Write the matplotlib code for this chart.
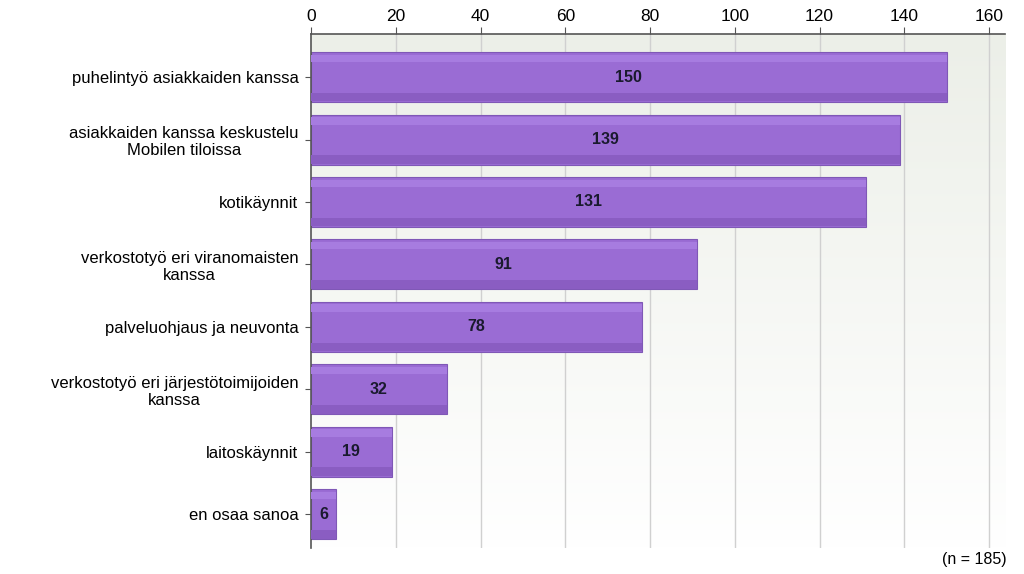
import matplotlib
matplotlib.use("Agg")
import matplotlib.pyplot as plt
import numpy as np

categories = ["puhelintyö asiakkaiden kanssa",
              "asiakkaiden kanssa keskustelu\nMobilen tiloissa",
              "kotikäynnit",
              "verkostotyö eri viranomaisten\nkanssa",
              "palveluohjaus ja neuvonta",
              "verkostotyö eri järjestötoimijoiden\nkanssa",
              "laitoskäynnit",
              "en osaa sanoa"]
values = [150, 139, 131, 91, 78, 32, 19, 6]
ticks = [0, 20, 40, 60, 80, 100, 120, 140, 160]

plt.rcParams["font.family"] = "Liberation Sans"
fig = plt.figure(figsize=(10.24, 5.74), dpi=100)
ax = fig.add_axes([0.3037, 0.0453, 0.678, 0.8955])
xmax, ytop, ybot = 163.8, -0.69, 7.54
ax.set_xlim(0, xmax)
ax.set_ylim(ybot, ytop)

grad = np.linspace(0, 1, 256).reshape(-1, 1)
from matplotlib.colors import LinearSegmentedColormap
bg = LinearSegmentedColormap.from_list("bg", ["#ecefe8", "#ffffff"])
ax.imshow(grad, extent=[0, xmax, ybot, ytop], cmap=bg, aspect="auto", zorder=0)

for t in ticks[1:]:
    ax.axvline(t, color="#d0d0d0", lw=1, zorder=1)

y = np.arange(len(categories))
ax.barh(y, values, height=0.8, color="#9a6cd4", edgecolor="#7f58b6", lw=0.8, zorder=2)
ax.barh(y - 0.3, values, height=0.12, color="#a77ce0", lw=0, zorder=3)
ax.barh(y + 0.32, values, height=0.14, color="#8a5dc2", lw=0, zorder=3)
for yi, v in zip(y, values):
    ax.text(v / 2, yi, str(v), ha="center", va="center", fontsize=11.5,
            fontweight="bold", color="#1a1a2e", zorder=4)

ax.set_yticks(y)
ax.set_yticklabels(categories, fontsize=12, ha="right", multialignment="center")
ax.set_xticks(ticks)
ax.xaxis.tick_top()
ax.tick_params(axis="x", labelsize=12.5, length=5, color="#555555", pad=2)
ax.tick_params(axis="y", length=4, color="#555555", pad=5)
for s in ["right", "bottom"]:
    ax.spines[s].set_visible(False)
for s in ["left", "top"]:
    ax.spines[s].set_color("#555555")
    ax.spines[s].set_linewidth(1.2)

fig.text(0.983, 0.012, "(n = 185)", ha="right", va="bottom", fontsize=11.5)
fig.savefig("out.png", dpi=100)
